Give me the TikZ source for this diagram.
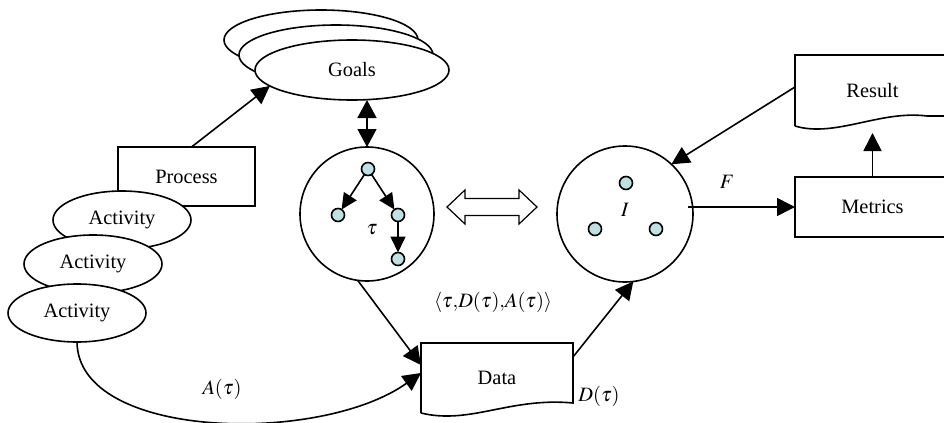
\documentclass[tikz,border=0pt]{standalone}
\usepackage{mathptmx}
\usepackage{fontspec}
\setmainfont{Liberation Serif}
\usetikzlibrary{shapes.geometric, arrows.meta}

\definecolor{dotfill}{RGB}{190,226,228}

\begin{document}
\begin{tikzpicture}[
  x=0.5pt, y=-0.5pt, line width=0.8pt,
  every node/.style={font=\fontsize{10.2}{12}\selectfont, outer sep=0pt},
  box/.style={draw, fill=white, inner sep=0pt},
  ell/.style={draw, ellipse, fill=white, inner sep=0pt,
              minimum width=69pt, minimum height=29pt},
  ring/.style={draw, circle, inner sep=0pt, minimum size=67pt},
  dot/.style={draw, circle, fill=dotfill, inner sep=0pt, minimum size=6.5pt},
  doc/.style={inner sep=0pt},
  arr/.style={-{Triangle[length=9pt, width=9pt]}},
  sarr/.style={-{Triangle[length=8pt, width=7.5pt]}},
  both/.style={{Triangle[length=9pt, width=9.5pt]}-{Triangle[length=9pt, width=9.5pt]}}
]
\useasboundingbox (0,0) rectangle (944,423);
\clip (0,0) rectangle (944,423);

% goals stack
\node[ell, minimum width=97pt, minimum height=30pt] (goals3) at (321,40) {};
\node[ell, minimum width=97pt, minimum height=30pt] (goals2) at (336,55) {};
\node[ell, minimum width=97pt, minimum height=30pt] (goals) at (352,70) {Goals};

% process and activities
\node[box, minimum width=68.5pt, minimum height=29.5pt] (process) at (186.5,176.5) {Process};
\node[ell] (act1) at (122,220) {Activity};
\node[ell] (act2) at (93,264) {Activity};
\node[ell] (act3) at (77,313) {Activity};

% trace tau
\node[ring] (tau) at (367,214) {};
\node[dot] (t1) at (368,169) {};
\node[dot] (t2) at (338,215) {};
\node[dot] (t3) at (398,215) {};
\node[dot] (t4) at (398,259) {};
\node (taulbl) at (372,230) {$\tau$};

% instance I
\node[ring, minimum size=68pt] (inst) at (625,214) {};
\node[dot] (i1) at (626,183) {};
\node[dot] (i2) at (595,229) {};
\node[dot] (i3) at (656,229) {};
\node (ilbl) at (625,210) {$I$};

% hollow double arrow
\coordinate (swap) at (492,207);
\draw[line width=0.6pt] (swap) ++(-45,0) -- ++(18,-17) -- ++(0,8.5) -- ++(54,0)
  -- ++(0,-8.5) -- ++(18,17) -- ++(-18,17) -- ++(0,-8.5) -- ++(-54,0)
  -- ++(0,8.5) -- cycle;

% data
\node[doc, minimum width=76pt, minimum height=35pt] (data) at (497,378) {Data};
\draw (data.south west) -- (data.north west) -- (data.north east)
  -- ([yshift=5pt]data.south east) .. controls (510,397) and (470,425) .. (data.south west);

% result and metrics
\node[doc, minimum width=77.5pt, minimum height=35.5pt] (result) at (872.5,90.5) {Result};
\draw (result.south west) -- (result.north west) -- (result.north east)
  -- ([yshift=5pt]result.south east) -- ++(-23,0)
  .. controls (880,110) and (835,138) .. (result.south west);
\node[box, minimum width=77.5pt, minimum height=30pt] (metrics) at (872.5,207) {Metrics};

% connectors
\draw[arr] ([xshift=2.5pt]process.north) -- (goals.191);
\draw[both] (goals.south -| tau.north) -- (tau.north);
\draw[sarr] (t1) -- (t2);
\draw[sarr] (t1) -- (t3);
\draw[sarr] (t3) -- (t4);
\draw[arr] (tau.262) -- ([yshift=6.5pt]data.west);
\draw[arr] (act3.south) .. controls (78,440) and (320,445) .. ([yshift=2.5pt]data.west);
\draw[arr] ([yshift=10.5pt]data.east) -- (inst.-83);
\coordinate (fstart) at (688,207);
\draw[arr] (fstart) -- (metrics.west);
\draw[arr] (metrics.north) -- ([yshift=-3.5pt]result.south);
\draw[arr] ([yshift=1.75pt]result.west) -- (inst.47);

% labels
\node (tuple) at (493,302) {$\langle\tau{,}D(\tau){,}A(\tau)\rangle$};
\node (dlbl) at (599,396) {$D(\tau)$};
\node (albl) at (222,389) {$A(\tau)$};
\node (flbl) at (727,182) {$F$};
\end{tikzpicture}
\end{document}
